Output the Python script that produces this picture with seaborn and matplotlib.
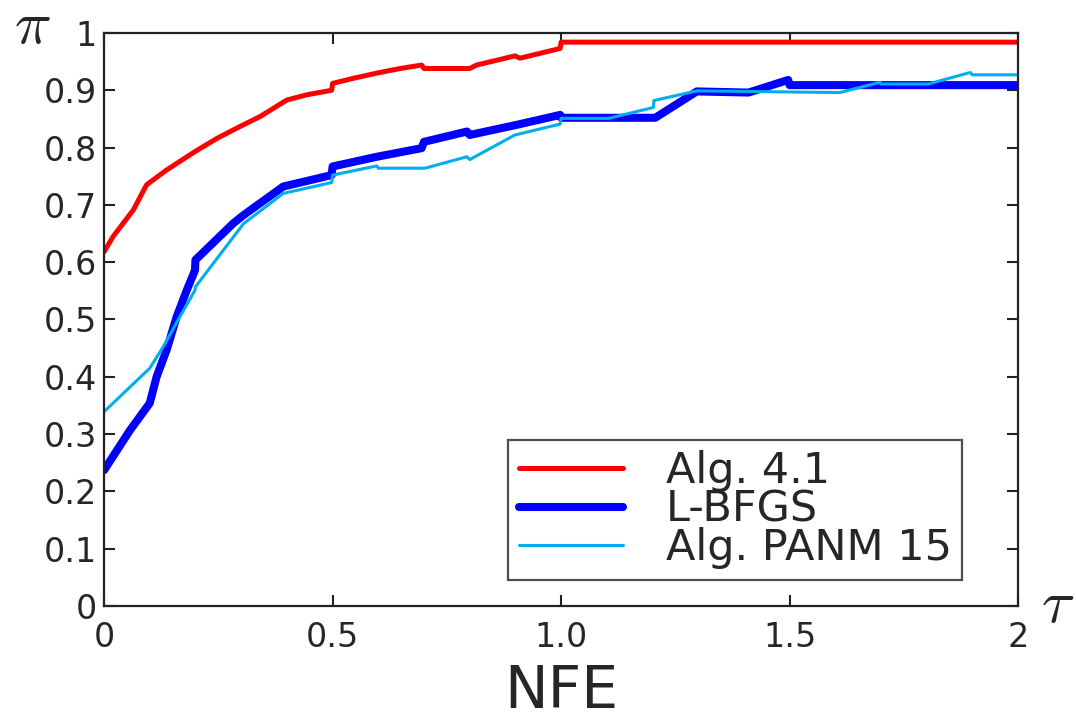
import matplotlib
matplotlib.use("Agg")
import matplotlib.pyplot as plt
import seaborn as sns
import pandas as pd

# performance profile data (tau, fraction of problems)
alg41_x = [0, 0.02, 0.064, 0.093, 0.137, 0.199, 0.247, 0.298, 0.341, 0.40, 0.443,
           0.498, 0.50, 0.546, 0.597, 0.648, 0.695, 0.70, 0.80, 0.815, 0.899, 0.91,
           0.998, 1.0, 2.0]
alg41_y = [0.618, 0.645, 0.691, 0.735, 0.761, 0.793, 0.816, 0.837, 0.854, 0.883, 0.892,
           0.900, 0.912, 0.921, 0.930, 0.938, 0.944, 0.938, 0.938, 0.944, 0.960, 0.956,
           0.973, 0.984, 0.984]

lbfgs_x = [0, 0.057, 0.10, 0.115, 0.137, 0.159, 0.181, 0.199, 0.20, 0.283, 0.305,
           0.392, 0.498, 0.50, 0.597, 0.695, 0.70, 0.794, 0.80, 0.899, 0.998, 1.0,
           1.206, 1.297, 1.41, 1.497, 1.50, 2.0]
lbfgs_y = [0.237, 0.307, 0.354, 0.40, 0.447, 0.505, 0.551, 0.586, 0.604, 0.668, 0.682,
           0.732, 0.752, 0.767, 0.784, 0.799, 0.810, 0.828, 0.822, 0.839, 0.857, 0.852,
           0.852, 0.898, 0.896, 0.918, 0.909, 0.909]

panm_x = [0, 0.10, 0.13, 0.166, 0.199, 0.20, 0.305, 0.392, 0.498, 0.50, 0.597, 0.60,
          0.702, 0.794, 0.80, 0.899, 0.998, 1.0, 1.104, 1.202, 1.203, 1.297, 1.61,
          1.698, 1.70, 1.804, 1.895, 1.90, 2.0]
panm_y = [0.339, 0.415, 0.453, 0.505, 0.551, 0.557, 0.667, 0.720, 0.739, 0.752, 0.768,
          0.764, 0.764, 0.784, 0.779, 0.822, 0.841, 0.851, 0.851, 0.870, 0.882, 0.899,
          0.896, 0.914, 0.911, 0.911, 0.931, 0.927, 0.927]

x_ticks = [0, 0.5, 1.0, 1.5, 2]
x_ticklabels = ["0", "0.5", "1.0", "1.5", "2"]
y_ticks = [0, 0.1, 0.2, 0.3, 0.4, 0.5, 0.6, 0.7, 0.8, 0.9, 1]
y_ticklabels = ["0", "0.1", "0.2", "0.3", "0.4", "0.5", "0.6", "0.7", "0.8", "0.9", "1"]

sns.set_style("white")
plt.rcParams['font.family'] = ['DejaVu Sans']
plt.rcParams['mathtext.fontset'] = 'cm'

text_col = "#262626"
fig = plt.figure(figsize=(10.76, 7.23), dpi=100)
ax = fig.add_axes([0.0967, 0.1618, 0.8495, 0.7926])

series = [
    ("Alg. 4.1", alg41_x, alg41_y, "#ff0000", 3.6),
    ("L-BFGS", lbfgs_x, lbfgs_y, "#0000ff", 5.8),
    ("Alg. PANM 15", panm_x, panm_y, "#00aeef", 2.2),
]
for name, xs, ys, color, lw in series:
    df = pd.DataFrame({"tau": xs, "rho": ys})
    sns.lineplot(data=df, x="tau", y="rho", ax=ax, color=color, linewidth=lw,
                 estimator=None, sort=False, label=name)

ax.set_xlim(0, 2)
ax.set_ylim(0, 1)
ax.set_xticks(x_ticks)
ax.set_xticklabels(x_ticklabels)
ax.set_yticks(y_ticks)
ax.set_yticklabels(y_ticklabels)
ax.tick_params(direction="in", length=8, width=1.5, colors="#222222",
               labelcolor=text_col, labelsize=24, top=True, right=True,
               bottom=True, left=True)
ax.tick_params(axis="x", pad=11)
ax.tick_params(axis="y", pad=5)
for sp in ax.spines.values():
    sp.set_visible(True)
    sp.set_color("#222222")
    sp.set_linewidth(1.6)

ax.set_xlabel("NFE", fontsize=42, color=text_col, labelpad=6)
ax.set_ylabel("")

fig.text(0.030, 0.962, r"$\pi$", fontsize=44, color=text_col, ha="center", va="center")
fig.text(0.983, 0.162, r"$\tau$", fontsize=44, color=text_col, ha="center", va="center")

leg = ax.legend(loc="lower right", bbox_to_anchor=(0.939, 0.045), fontsize=31,
                frameon=True, fancybox=False, edgecolor="#222222",
                handlelength=2.4, handletextpad=1.0, labelspacing=-0.08,
                borderpad=0.25, borderaxespad=0)
leg.get_frame().set_linewidth(1.6)
for t in leg.get_texts():
    t.set_color(text_col)

fig.savefig("out.png", dpi=100)
